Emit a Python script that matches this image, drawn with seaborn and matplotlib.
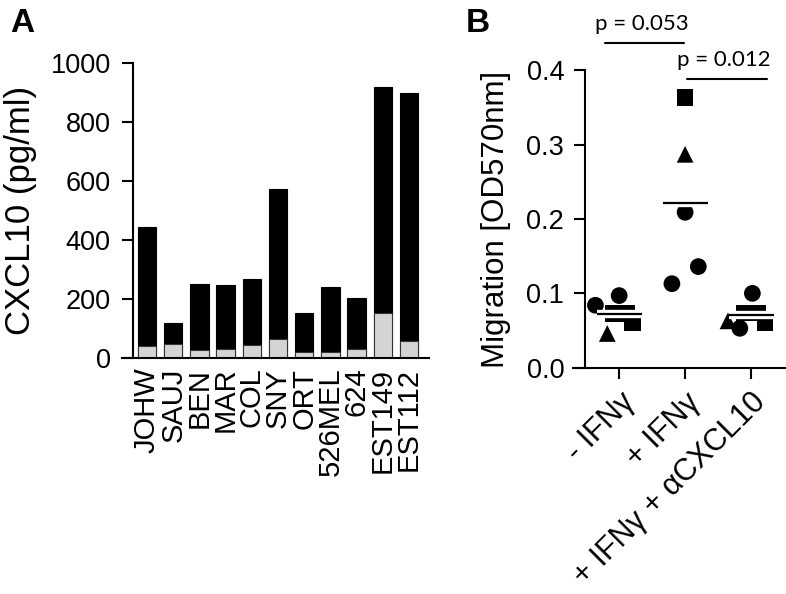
import pandas as pd
import matplotlib.pyplot as plt
import matplotlib.patheffects as pe
import seaborn as sns

# --- Data ---
cell_lines = ['JOHW', 'SAUJ', 'BEN', 'MAR', 'COL', 'SNY', 'ORT', '526MEL', '624', 'EST149', 'EST112']
cxcl10_ifn = [445, 117, 250, 246, 267, 574, 151, 240, 204, 920, 900]
cxcl10_base = [40, 47, 28, 30, 44, 64, 21, 21, 32, 151, 59]

conditions = ['- IFN\u03b3', '+ IFN\u03b3', '+ IFN\u03b3 + \u03b1CXCL10']
mig_group = [0, 0, 0, 0, 0, 0,
             1, 1, 1, 1, 1,
             2, 2, 2, 2, 2, 2]
mig_value = [0.084, 0.097, 0.046, 0.073, 0.073, 0.060,
             0.363, 0.287, 0.209, 0.113, 0.136,
             0.100, 0.063, 0.053, 0.0735, 0.0735, 0.061]
mig_shape = ['circle', 'circle', 'triangle', 'square', 'square', 'square',
             'square', 'triangle', 'circle', 'circle', 'circle',
             'circle', 'triangle', 'circle', 'square', 'square', 'square']

# horizontal scatter of the points within each column (layout only)
x_offsets = [-0.36, 0.0, -0.18, -0.09, 0.11, 0.20,
             0.0, 0.0, 0.0, -0.2, 0.2,
             0.02, -0.35, -0.17, -0.10, 0.10, 0.21]

p_values = ['p = 0.053', 'p = 0.012']


def main():
    sns.set_theme(style='ticks')
    plt.rcParams['font.family'] = ['Liberation Sans', 'DejaVu Sans']
    plt.rcParams['axes.linewidth'] = 1.5
    for key in ['text.color', 'axes.labelcolor', 'xtick.color', 'ytick.color', 'axes.edgecolor']:
        plt.rcParams[key] = 'black'

    fig = plt.figure(figsize=(7.86, 5.94), dpi=100)

    # ---------------- Panel A ----------------
    axA = fig.add_axes([122 / 786, 1 - 358 / 594, (429 - 122) / 786, (358 - 63) / 594])
    sns.barplot(x=cell_lines, y=cxcl10_ifn, color='black', saturation=1,
                width=0.7, ax=axA, edgecolor='black', linewidth=0.8)
    sns.barplot(x=cell_lines, y=cxcl10_base, color='#d4d4d4', saturation=1,
                width=0.7, ax=axA, edgecolor='#333333', linewidth=0.8)
    axA.set_xlim(-0.954, 10.76)
    axA.set_ylim(0, 1000)
    axA.set_yticks([0, 200, 400, 600, 800, 1000])
    axA.spines['left'].set_position(('axes', 11 / 307))
    sns.despine(ax=axA)
    axA.tick_params(axis='y', length=8, width=1.5, labelsize=19.5, pad=8)
    axA.tick_params(axis='x', length=0, labelsize=21, pad=7, rotation=90)
    axA.set_ylabel('CXCL10 (pg/ml)', fontsize=25, labelpad=10)
    axA.set_xlabel('')
    fig.text(10 / 786, 1 - 32 / 594, 'A', fontsize=24, fontweight='bold')

    # ---------------- Panel B ----------------
    axB = fig.add_axes([573 / 786, 1 - 367.7 / 594, (786 - 573) / 786, (367.7 - 70.3) / 594])
    df = pd.DataFrame({'group': mig_group, 'value': mig_value, 'shape': mig_shape,
                       'offset': x_offsets})
    df['xpos'] = df['group'] + df['offset']
    sns.scatterplot(data=df, x='xpos', y='value', style='shape',
                    markers={'circle': 'o', 'square': 's', 'triangle': '^'},
                    color='black', s=145, edgecolor='none', legend=False, ax=axB,
                    zorder=2)

    means = df.groupby('group')['value'].mean()
    for g, m in means.items():
        axB.hlines(m, g - 0.34, g + 0.35, color='black', linewidth=1.6, zorder=3,
                   path_effects=[pe.Stroke(linewidth=6, foreground='white'), pe.Normal()])

    axB.set_xlim(-0.70, 2.53)
    axB.set_ylim(0, 0.4)
    axB.set_yticks([0.0, 0.1, 0.2, 0.3, 0.4])
    axB.set_yticklabels([f'{v:.1f}' for v in [0.0, 0.1, 0.2, 0.3, 0.4]])
    axB.set_xticks([0, 1, 2])
    axB.set_xticklabels(conditions, rotation=45, ha='right', rotation_mode='anchor')
    axB.spines['left'].set_position(('axes', 12 / 213))
    sns.despine(ax=axB)
    axB.tick_params(axis='y', length=8, width=1.5, labelsize=19.5, pad=7)
    axB.tick_params(axis='x', length=8, width=1.5, labelsize=22, pad=6)
    axB.set_ylabel('Migration [OD570nm]', fontsize=22.5, labelpad=11)
    axB.set_xlabel('')

    # significance brackets
    brackets = [(-0.21, 0.985, 0.437), (1.03, 2.24, 0.388)]
    for (x0, x1, y), label in zip(brackets, p_values):
        axB.plot([x0, x1], [y, y], color='black', linewidth=1.5, clip_on=False)
        axB.text((x0 + x1) / 2 - 0.05, y + 0.012, label, ha='center', va='bottom',
                 fontsize=16, family=['Lato', 'DejaVu Sans'], clip_on=False)

    fig.text(466 / 786, 1 - 32 / 594, 'B', fontsize=24, fontweight='bold')

    plt.savefig('out.png', dpi=100)


if __name__ == '__main__':
    main()
